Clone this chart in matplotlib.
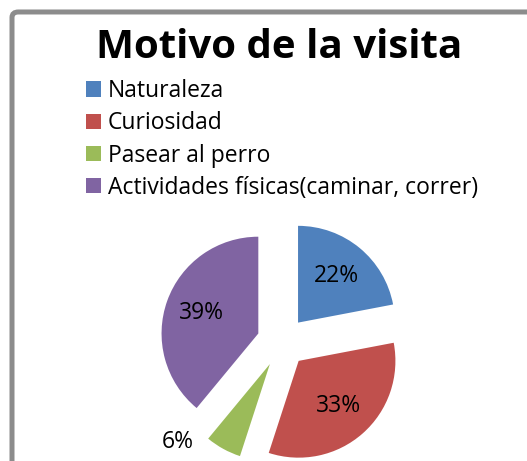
import matplotlib.pyplot as plt
from matplotlib.patches import FancyBboxPatch
import numpy as np

# Datos del grafico
motivos = ['Naturaleza', 'Curiosidad', 'Pasear al perro',
           'Actividades físicas(caminar, correr)']
porcentajes = [22, 33, 6, 39]
colores = ['#4f81bd', '#c0504d', '#9bbb59', '#8064a2']

plt.rcParams['font.family'] = ['Open Sans', 'DejaVu Sans']

fig = plt.figure(figsize=(5.27, 4.61), dpi=100)

# Marco gris redondeado (recortado a la derecha y abajo)
marco = FancyBboxPatch((12 / 527, -0.2), 1.2, 0.974 + 0.2,
                       boxstyle='round,pad=0,rounding_size=0.012',
                       transform=fig.transFigure, facecolor='none',
                       edgecolor='#8c8c8c', linewidth=3.6)
fig.patches.append(marco)

# Ejes del pastel: 300x300 px centrados en (282, 342) px
cx, cy, lado = 282, 461 - 342, 300
ax = fig.add_axes([(cx - lado / 2) / 527, (cy - lado / 2) / 461,
                   lado / 527, lado / 461])

explode = [0.26] * len(porcentajes)
wedges, texts, autotexts = ax.pie(porcentajes, colors=colores, explode=explode,
                                  startangle=90, counterclock=False,
                                  autopct='%d%%', pctdistance=0.62,
                                  textprops={'fontsize': 16.5, 'color': 'black'})
ax.set_xlim(-1.55, 1.55)
ax.set_ylim(-1.55, 1.55)
ax.set_aspect('equal')
ax.axis('off')

# Etiqueta del 6% fuera de la porcion
w = wedges[2]
ang = np.deg2rad((w.theta1 + w.theta2) / 2 - 21)
ox, oy = w.center
autotexts[2].set_position((ox + 1.25 * np.cos(ang), oy + 1.25 * np.sin(ang)))

fig.text(279 / 527, 1 - 47 / 461, 'Motivo de la visita', ha='center',
         va='center', fontsize=29, fontweight='bold')

leg = fig.legend(wedges, motivos, loc='upper left',
                 bbox_to_anchor=(86 / 527, 1 - 79 / 461), frameon=False,
                 fontsize=16.5, handlelength=0.65, handleheight=0.65,
                 handletextpad=0.3, labelspacing=0.36, borderpad=0,
                 borderaxespad=0)

fig.savefig('out.png', dpi=100)
